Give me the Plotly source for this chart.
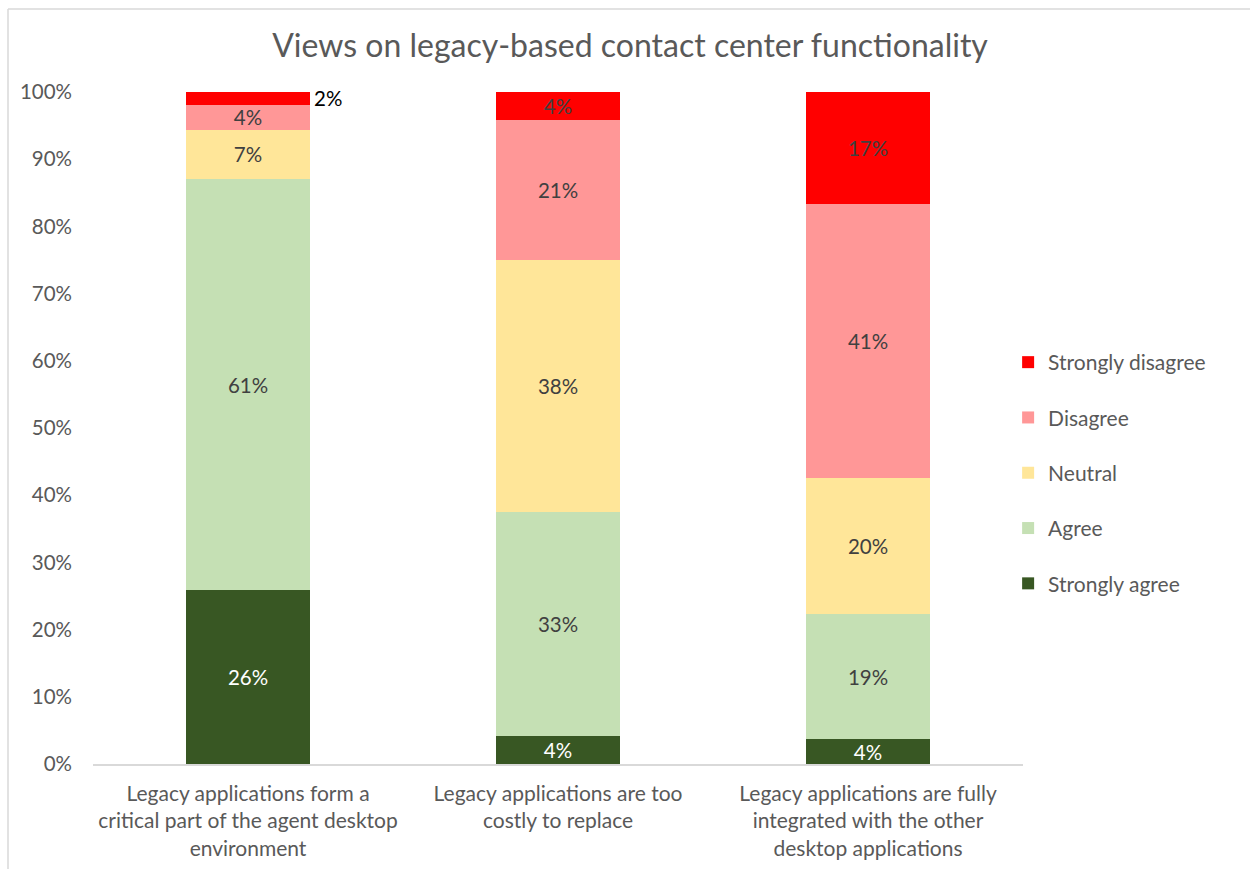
import plotly.graph_objects as go

# Survey statements (x categories)
categories = [
    "Legacy applications form a<br>critical part of the agent desktop<br>environment",
    "Legacy applications are too<br>costly to replace",
    "Legacy applications are fully<br>integrated with the other<br>desktop applications",
]

# Share of responses per answer, in percent
strongly_agree = [25.9, 4.2, 3.7]
agree = [61.1, 33.3, 18.6]
neutral = [7.4, 37.5, 20.3]
disagree = [3.7, 20.8, 40.7]
strongly_disagree = [1.9, 4.2, 16.7]

series_names = ["Strongly agree", "Agree", "Neutral", "Disagree", "Strongly disagree"]
series_values = [strongly_agree, agree, neutral, disagree, strongly_disagree]
series_colors = ["#385723", "#C5E0B4", "#FFE699", "#FF9797", "#FF0000"]
text_colors = ["#FFFFFF", "#404040", "#404040", "#404040", "#404040"]

y_ticks = [0, 10, 20, 30, 40, 50, 60, 70, 80, 90, 100]
y_tick_labels = [f"{t}%" for t in y_ticks]

FONT = "Lato, 'Open Sans', sans-serif"
LABEL_SIZE = 20.5
MIN_INSIDE = 3.0  # segments thinner than this get their label outside the bar


def pct(v):
    # round half up, as percentages are usually shown
    return f"{int(v + 0.5)}%"


fig = go.Figure()
outside_labels = []
n_series = len(series_names)
for gi, (name, vals, color, tcol) in enumerate(zip(series_names, series_values, series_colors, text_colors)):
    texts = []
    for ci, v in enumerate(vals):
        if v < MIN_INSIDE:
            texts.append("")
            base = sum(series_values[k][ci] for k in range(gi))
            outside_labels.append((ci, base + v / 2, pct(v)))
        else:
            texts.append(pct(v))
    fig.add_trace(go.Bar(
        x=list(range(len(categories))),
        y=vals,
        name=name,
        marker=dict(color=color, line=dict(width=0)),
        text=texts,
        textposition="inside",
        insidetextanchor="middle",
        textangle=0,
        textfont=dict(family=FONT, size=LABEL_SIZE, color=tcol),
        legendgroup=name,
        legendrank=n_series - gi,
        hoverinfo="skip",
    ))

for ci, ymid, label in outside_labels:
    fig.add_annotation(
        x=ci, y=ymid, xref="x", yref="y", text=label, showarrow=False,
        xanchor="left", yanchor="middle", xshift=64,
        font=dict(family=FONT, size=LABEL_SIZE, color="#000000"),
    )

# Plot geometry, also used for the outer chart border
L, R, T, B = 93, 227, 92, 105
W, H = 1250, 869
pw, ph = W - L - R, H - T - B
bx = (8 - L) / pw
by_top = (H - B - 9) / ph
bx_right = (W + 20 - L) / pw
by_bot = (H - B - (H + 20)) / ph
fig.add_shape(type="line", xref="paper", yref="paper", x0=bx, x1=bx, y0=by_bot, y1=by_top,
              line=dict(color="#D9D9D9", width=1.5))
fig.add_shape(type="line", xref="paper", yref="paper", x0=bx, x1=bx_right, y0=by_top, y1=by_top,
              line=dict(color="#D9D9D9", width=1.5))

fig.update_layout(
    width=W, height=H,
    margin=dict(l=L, r=R, t=T, b=B, autoexpand=False),
    barmode="stack",
    bargap=0.6,
    paper_bgcolor="white",
    plot_bgcolor="white",
    font=dict(family=FONT, color="#595959", size=LABEL_SIZE),
    uniformtext=dict(minsize=LABEL_SIZE, mode="show"),
    title=dict(
        text="Views on legacy-based contact center functionality",
        x=630 / W, xanchor="center", y=1 - 46 / H, yanchor="middle",
        font=dict(family=FONT, size=32, color="#595959"),
    ),
    legend=dict(
        x=0.984, xanchor="left", y=(H - B - 473) / ph, yanchor="middle",
        traceorder="grouped", tracegroupgap=25,
        font=dict(family=FONT, size=21, color="#595959"),
        itemwidth=30, bgcolor="rgba(0,0,0,0)",
    ),
    xaxis=dict(
        tickmode="array", tickvals=list(range(len(categories))), ticktext=categories,
        range=[-0.5, len(categories) - 0.5],
        showgrid=False, zeroline=False, showline=True, linecolor="#D9D9D9", linewidth=1.5,
        ticks="", tickfont=dict(family=FONT, size=21, color="#595959"),
        ticklabelstandoff=10,
    ),
    yaxis=dict(
        range=[0, 100], tickmode="array", tickvals=y_ticks, ticktext=y_tick_labels,
        showgrid=False, zeroline=False, showline=False, ticks="",
        tickfont=dict(family=FONT, size=20.5, color="#595959"),
        ticklabelstandoff=20,
    ),
    showlegend=True,
)

fig.write_html("out.html")
